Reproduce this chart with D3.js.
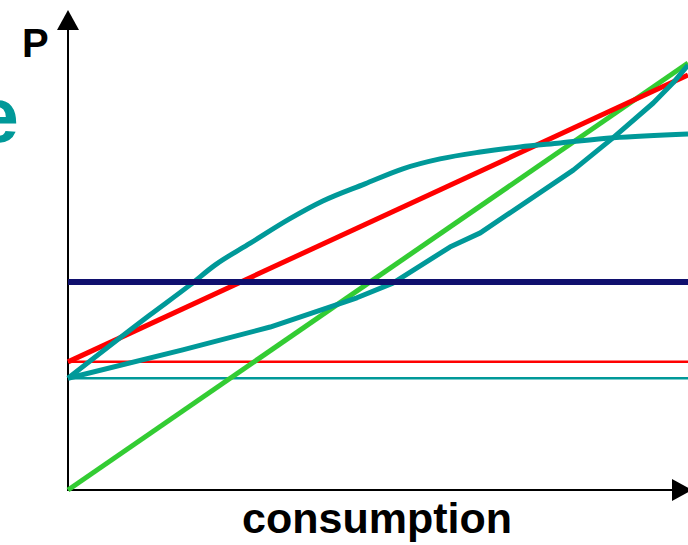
<!DOCTYPE html>
<html><head><meta charset="utf-8">
<script src="https://cdn.jsdelivr.net/npm/d3@7"></script>
<style>html,body{margin:0;padding:0;background:#fff;overflow:hidden}svg{display:block}</style>
</head><body>
<script>
// ---- data (abstract units: x 0..100 consumption, y 0..100 P) ----
const navyLevel = 48.4;
const thinRedLevel = 29.8;
const thinTealLevel = 26.0;
const redLine = [[0, 29.8], [100, 96.5]];
const greenLine = [[0, 0], [100, 99.3]];
const concaveTeal = [[0,26.0],[13.2,40.7],[19.7,47.7],[23.7,52.3],[29.4,57.4],[35.8,63.1],[41.1,67.2],[47.9,71.2],[54.0,74.7],[60.0,77.0],[66.5,78.6],[72.9,79.8],[79.4,80.7],[87.9,81.9],[100,82.8]];
const convexTeal = [[0,26.0],[18.5,32.6],[32.6,37.9],[42.3,42.6],[46.6,44.7],[52.4,48.1],[61.6,56.5],[66.5,59.8],[81.5,74.4],[87.9,81.9],[94.4,90.0],[97.6,94.7],[100,98.8]];
const yLabel = "P";
const xLabel = "consumption";
const sideText = "e";

const W = 688, H = 545;
const svg = d3.select("body").append("svg").attr("width", W).attr("height", H);
const x = d3.scaleLinear().domain([0, 100]).range([68, 688]);
const y = d3.scaleLinear().domain([0, 100]).range([490, 60]);
const line = d3.line().x(d => x(d[0])).y(d => y(d[1])).curve(d3.curveLinear);
const smooth = d3.line().x(d => x(d[0])).y(d => y(d[1])).curve(d3.curveMonotoneX);

// axes
svg.append("line").attr("x1", x(0)).attr("x2", x(0)).attr("y1", y(0)).attr("y2", 26)
  .attr("stroke", "#000").attr("stroke-width", 2);
svg.append("path").attr("d", `M${x(0)},10 L${x(0)-11},30 L${x(0)+11},30 Z`).attr("fill", "#000");
svg.append("line").attr("x1", x(0)-1).attr("x2", 676).attr("y1", y(0)).attr("y2", y(0))
  .attr("stroke", "#000").attr("stroke-width", 2);
svg.append("path").attr("d", `M692,${y(0)} L672,${y(0)-11} L672,${y(0)+11} Z`).attr("fill", "#000");

const g = svg.append("g").attr("fill", "none").attr("stroke-linejoin", "round");
// thin horizontal lines
g.append("path").attr("d", line([[0, thinTealLevel], [100, thinTealLevel]])).attr("stroke", "#009999").attr("stroke-width", 2.5);
g.append("path").attr("d", line([[0, thinRedLevel], [100, thinRedLevel]])).attr("stroke", "#ff0000").attr("stroke-width", 2.5);
// sloped lines
g.append("path").attr("d", line(greenLine)).attr("stroke", "#33cc33").attr("stroke-width", 5);
g.append("path").attr("d", line(redLine)).attr("stroke", "#ff0000").attr("stroke-width", 5);
g.append("path").attr("d", line(convexTeal)).attr("stroke", "#009999").attr("stroke-width", 5);
g.append("path").attr("d", smooth(concaveTeal)).attr("stroke", "#009999").attr("stroke-width", 5);
g.append("path").attr("d", line([[0, navyLevel], [100, navyLevel]])).attr("stroke", "#10106e").attr("stroke-width", 6);

// labels
const font = "'Liberation Sans', Arial, sans-serif";
svg.append("text").attr("x", 22).attr("y", 57).text(yLabel)
  .attr("font-family", font).attr("font-weight", "bold").attr("font-size", 40).attr("fill", "#000");
svg.append("text").attr("x", 377).attr("y", 533).attr("text-anchor", "middle").text(xLabel)
  .attr("font-family", font).attr("font-weight", "bold").attr("font-size", 43).attr("fill", "#000");
svg.append("text").attr("x", 19).attr("y", 142).attr("text-anchor", "end").text(sideText)
  .attr("font-family", font).attr("font-weight", "bold").attr("font-size", 78).attr("fill", "#009999");
</script>
</body></html>
